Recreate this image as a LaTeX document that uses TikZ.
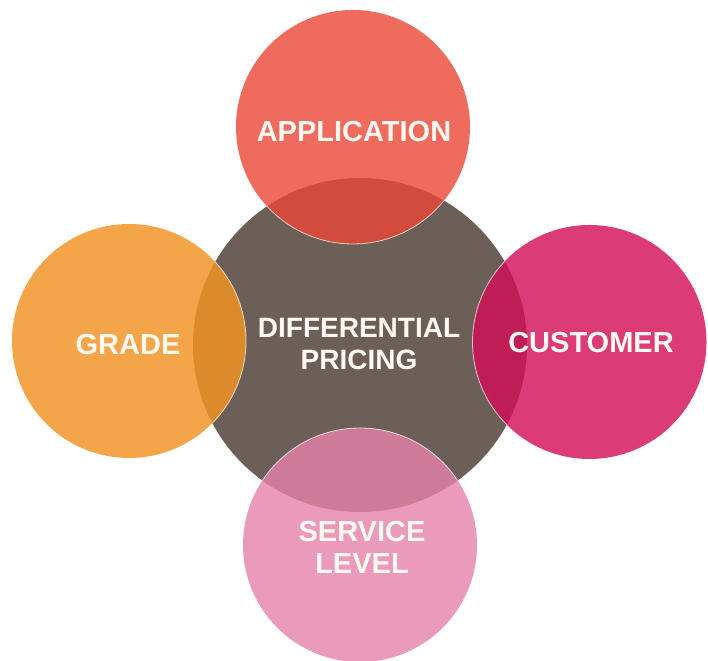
\documentclass[tikz,border=0pt]{standalone}
\usepackage{fontspec}
\setmainfont{Liberation Sans}
\definecolor{hubbrown}{HTML}{6C5F57}
\definecolor{appred}{HTML}{EE6B5D}
\definecolor{appdark}{HTML}{D34B3C}
\definecolor{gradeorange}{HTML}{F4A549}
\definecolor{gradedark}{HTML}{DB8B2B}
\definecolor{custpink}{HTML}{DB3B77}
\definecolor{custdark}{HTML}{BF1D55}
\definecolor{servpink}{HTML}{EA9ABB}
\definecolor{servdark}{HTML}{CE7A99}
\definecolor{labelwhite}{HTML}{FFF9F2}
\tikzset{
  blob/.style={circle, inner sep=0pt, minimum size=234pt, draw=none},
  hub/.style={circle, inner sep=0pt, minimum size=334pt, draw=none, fill=hubbrown},
  label/.style={text=labelwhite, font=\bfseries\fontsize{29}{32}\selectfont, align=center},
  rim/.style={draw=white, draw opacity=0.7, line width=0.8pt}
}
\begin{document}
\begin{tikzpicture}[x=1pt,y=1pt]
  \useasboundingbox (0,0) rectangle (708,660);
  % central circle
  \node[hub] (hubc) at (360,315) {};
  % satellite circles
  \node[blob, fill=appred] (app) at (353,533) {};
  \node[blob, fill=gradeorange] (grade) at (129,319) {};
  \node[blob, fill=custpink] (cust) at (589.5,318) {};
  \node[blob, fill=servpink] (serv) at (360,115) {};
  % darker lens where each satellite overlaps the centre
  \begin{scope}
    \clip (hubc.center) circle (167);
    \fill[appdark] (app.center) circle (117);
    \fill[gradedark] (grade.center) circle (117);
    \fill[custdark] (cust.center) circle (117);
    \fill[servdark] (serv.center) circle (117);
  \end{scope}
  % light rims on the satellite edges inside the centre
  \begin{scope}
    \clip (hubc.center) circle (167);
    \draw[rim] (app.center) circle (117);
    \draw[rim] (grade.center) circle (117);
    \draw[rim] (cust.center) circle (117);
    \draw[rim] (serv.center) circle (117);
  \end{scope}
  % labels
  \node[label] (tapp) at (354,528) {APPLICATION};
  \node[label] (tgrade) at (128,315) {GRADE};
  \node[label] (tcust) at (591,317) {CUSTOMER};
  \node[label] (tserv) at (362,113) {SERVICE\\LEVEL};
  \node[label, font=\bfseries\fontsize{28}{32}\selectfont] (thub) at (359,316) {DIFFERENTIAL\\PRICING};
\end{tikzpicture}
\end{document}
